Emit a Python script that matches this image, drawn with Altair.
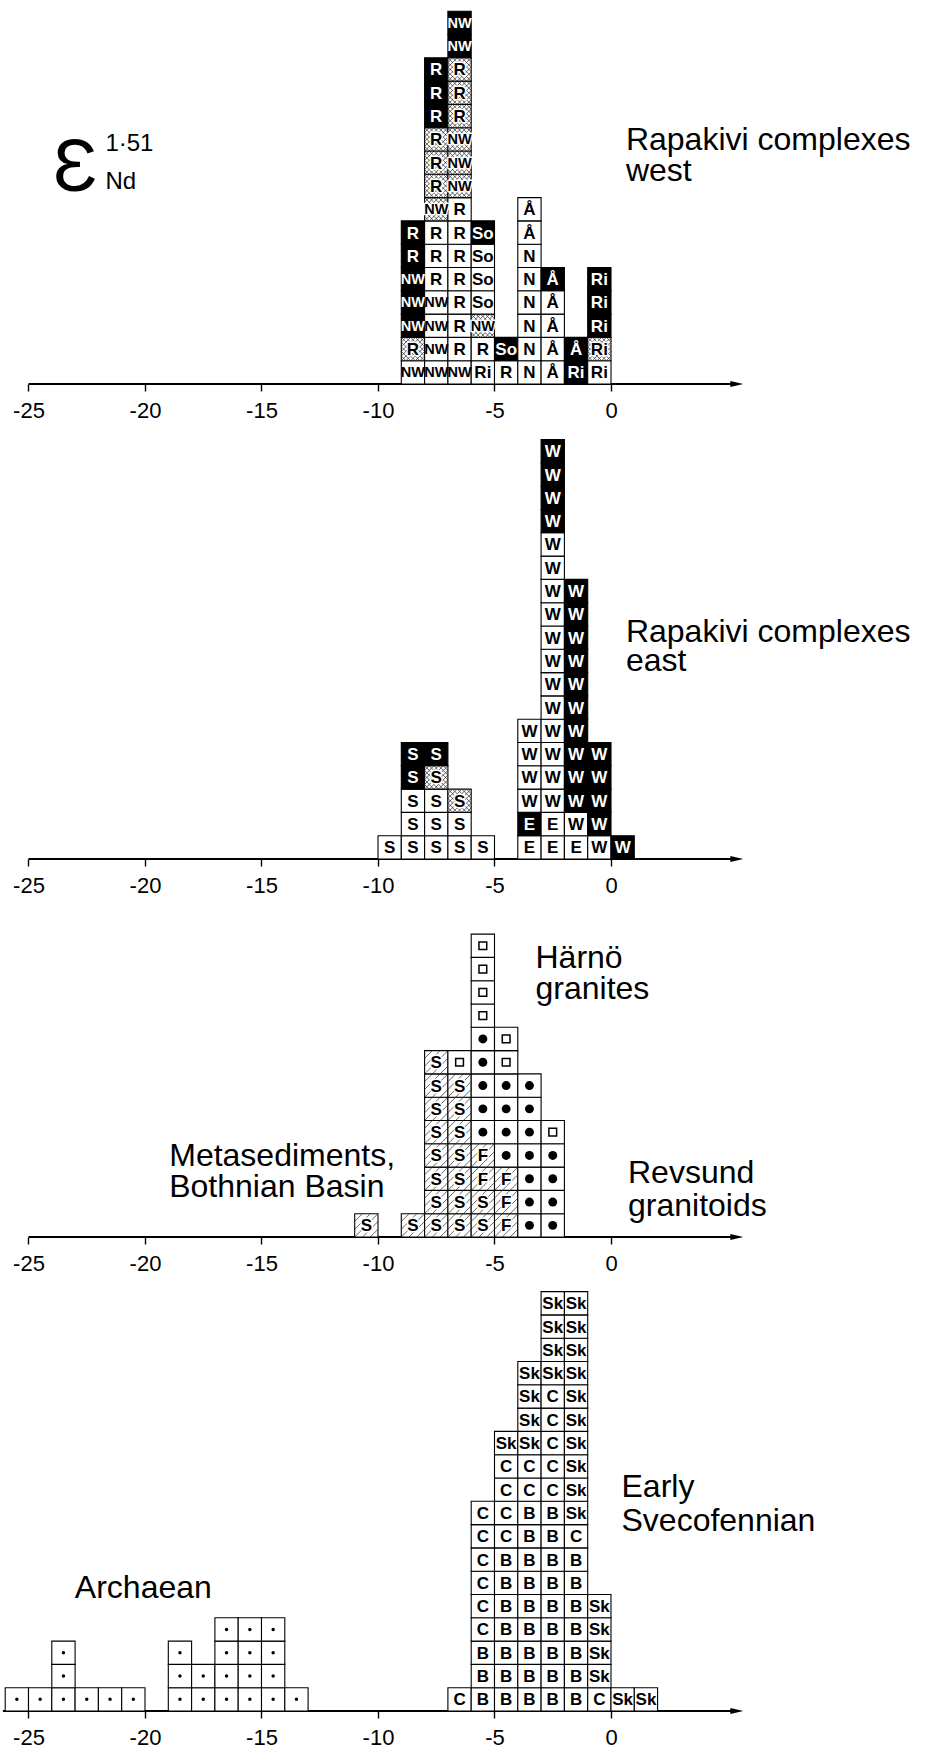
import altair as alt
import pandas as pd

FONT = "Liberation Sans"

# ---------------- data (bins are 1 epsilon unit wide; stacks listed bottom -> top) ----------------
# token = "label:fill"  fill: w white, b black, x cross-hatched, h hatched; label "@" = filled dot,
# "#" = open square, "." = small dot
TICKS = [-25, -20, -15, -10, -5, 0]

WEST_X = [-9, -8, -7, -6, -5, -4, -3, -2, -1]
WEST_STACKS = [
    "NW:w R:x NW:b NW:b NW:b R:b R:b",
    "NW:w NW:w NW:w NW:w R:w R:w R:w NW:x R:x R:x R:x R:b R:b R:b",
    "NW:w R:w R:w R:w R:w R:w R:w R:w NW:x NW:x NW:x R:x R:x R:x NW:b NW:b",
    "Ri:w R:w NW:x So:w So:w So:w So:b",
    "R:w So:b",
    "N:w N:w N:w N:w N:w N:w Å:w Å:w",
    "Å:w Å:w Å:w Å:w Å:b",
    "Ri:b Å:b",
    "Ri:w Ri:x Ri:b Ri:b Ri:b",
]

EAST_X = [-10, -9, -8, -7, -6, -4, -3, -2, -1, 0]
EAST_STACKS = [
    "S:w",
    "S:w S:w S:w S:b S:b",
    "S:w S:w S:w S:x S:b",
    "S:w S:w S:x",
    "S:w",
    "E:w E:b W:w W:w W:w W:w",
    "E:w E:w W:w W:w W:w W:w W:w W:w W:w W:w W:w W:w W:w W:w W:b W:b W:b W:b",
    "E:w W:w W:b W:b W:b W:b W:b W:b W:b W:b W:b W:b",
    "W:w W:b W:b W:b W:b",
    "W:b",
]

MID_X = [-11, -9, -8, -7, -6, -5, -4, -3]
MID_STACKS = [
    "S:h",
    "S:h",
    "S:h S:h S:h S:h S:h S:h S:h S:h",
    "S:h S:h S:h S:h S:h S:h S:h #:w",
    "S:h S:h F:h F:h @:w @:w @:w @:w @:w #:w #:w #:w #:w",
    "F:h F:h F:h @:w @:w @:w @:w #:w #:w",
    "@:w @:w @:w @:w @:w @:w @:w",
    "@:w @:w @:w @:w #:w",
]

OLD_X = [-26, -25, -24, -23, -22, -21, -19, -18, -17, -16, -15, -14,
         -7, -6, -5, -4, -3, -2, -1, 0, 1]
OLD_STACKS = [
    ".", ".", ". . .", ".", ".", ".",
    ". . .", ". .", ". . . .", ". . . .", ". . . .", ".",
    "C",
    "B B B C C C C C C",
    "B B B B B B B C C C C Sk",
    "B B B B B B B B B C C Sk Sk Sk Sk",
    "B B B B B B B B B C C C C C Sk Sk Sk Sk",
    "B B B B B B B C Sk Sk Sk Sk Sk Sk Sk Sk Sk Sk",
    "C Sk Sk Sk Sk",
    "Sk",
    "Sk",
]

# ---------------- layout ----------------
UNIT = 23.3          # px per epsilon unit and per sample
ZERO_PX = 611        # pixel column of epsilon = 0
WIDTH = 926
X_DOMAIN = [-ZERO_PX / UNIT, (WIDTH - ZERO_PX) / UNIT]
PANEL_H = [384, 475, 378, 474]
AXIS_START = [-25, -25, -25, -26.1]
AXIS_END = 5.4

# annotations: (text, x in epsilon units, y in sample units, font size)
ANN = [
    [("Rapakivi complexes", 0.64, 10.04, 32), ("west", 0.64, 8.71, 32),
     ("Ɛ", -23.95, 8.3, 74), ("1·51", -21.7, 10.0, 24), ("Nd", -21.7, 8.35, 24)],
    [("Rapakivi complexes", 0.64, 9.33, 32), ("east", 0.64, 8.05, 32)],
    [("Härnö", -3.24, 11.53, 32), ("granites", -3.24, 10.23, 32),
     ("Metasediments,", -18.96, 3.05, 32), ("Bothnian Basin", -18.96, 1.71, 32),
     ("Revsund", 0.73, 2.33, 32), ("granitoids", 0.73, 0.9, 32)],
    [("Early", 0.45, 9.17, 32), ("Svecofennian", 0.45, 7.74, 32),
     ("Archaean", -23.01, 4.86, 32)],
]

AXIS = alt.Axis(values=TICKS, domain=False, grid=False, ticks=True,
                tickSize=7, tickWidth=1.4, tickColor="black",
                labelFont=FONT, labelFontSize=22, labelColor="black",
                labelPadding=9, labelExpr="'' + datum.value",
                labelFlush=False, title=None)


def make_cells(xs, stacks):
    rows = []
    for x, st in zip(xs, stacks):
        for i, tok in enumerate(st.split()):
            lab, _, fill = tok.partition(":")
            rows.append(dict(x0=x, x1=x + 1, y0=i, y1=i + 1, cx=x + 0.5, cy=i + 0.5,
                             label=lab, fill=fill or "w"))
    return pd.DataFrame(rows)


def make_hatch(cells):
    rows = []
    for r in cells.itertuples():
        if r.fill == "x":
            ts = [k / 5 for k in range(-4, 5)]
            ss = [k / 5 for k in range(1, 10)]
        elif r.fill == "h":
            ts = [k / 3 for k in range(-2, 3)]
            ss = []
        else:
            continue
        for t in ts:
            rows.append(dict(xa=r.x0 + max(t, 0), ya=r.y0 + max(-t, 0),
                             xb=r.x0 + min(1, 1 + t), yb=r.y0 + min(1, 1 - t)))
        for s in ss:
            rows.append(dict(xa=r.x0 + max(0, s - 1), ya=r.y0 + min(1, s),
                             xb=r.x0 + min(1, s), yb=r.y0 + max(0, s - 1)))
    return pd.DataFrame(rows)


def panel(xs_, stacks, height, ann, axis_start):
    cells = make_cells(xs_, stacks)
    xs = alt.Scale(domain=X_DOMAIN, nice=False, zero=False)
    ys = alt.Scale(domain=[0, height / UNIT], nice=False, zero=False)
    X = lambda f: alt.X(f, type="quantitative", scale=xs, axis=AXIS, title=None)
    Y = lambda f: alt.Y(f, type="quantitative", scale=ys, axis=None)

    layers = []
    axis_df = pd.DataFrame({"xa": [axis_start], "xb": [AXIS_END], "y": [0]})
    layers.append(
        alt.Chart(axis_df).mark_rule(color="black", strokeWidth=1.8).encode(
            x=X("xa"), x2="xb:Q", y=Y("y"),
        )
    )
    layers.append(
        alt.Chart(axis_df).mark_point(
            shape="M-1,-0.45L1,0L-1,0.45Z", filled=True, size=170, color="black", opacity=1
        ).encode(x=X("xb"), y=Y("y"))
    )
    base = alt.Chart(cells)
    layers.append(
        base.mark_rect(stroke="black", strokeWidth=1.1).encode(
            x=X("x0"), x2="x1:Q", y=Y("y0"), y2="y1:Q",
            fill=alt.condition("datum.fill == 'b'", alt.value("black"), alt.value("white")),
        )
    )
    hatch = make_hatch(cells)
    if len(hatch):
        layers.append(
            alt.Chart(hatch).mark_rule(color="#222222", strokeWidth=0.7).encode(
                x=X("xa"), x2="xb:Q", y=Y("ya"), y2="yb:Q"
            )
        )
    is_text = "datum.label != '@' && datum.label != '#' && datum.label != '.'"
    fs = "datum.label == 'NW' ? 14.5 : 17"
    layers.append(
        base.transform_filter(is_text + " && (datum.fill == 'x' || datum.fill == 'h')")
        .transform_calculate(fs=fs)
        .mark_text(font=FONT, fontWeight="bold", align="center", baseline="middle", dy=1,
                   color="white", stroke="white", strokeWidth=3, strokeJoin="round")
        .encode(x=X("cx"), y=Y("cy"), text="label:N",
                size=alt.Size("fs:Q", scale=None, legend=None))
    )
    layers.append(
        base.transform_filter(is_text)
        .transform_calculate(fs=fs)
        .mark_text(font=FONT, fontWeight="bold", align="center", baseline="middle", dy=1)
        .encode(x=X("cx"), y=Y("cy"), text="label:N",
                size=alt.Size("fs:Q", scale=None, legend=None),
                color=alt.condition("datum.fill == 'b'", alt.value("white"), alt.value("black")))
    )
    layers.append(
        base.transform_filter("datum.label == '@'").mark_point(
            shape="circle", filled=True, size=80, color="black", opacity=1
        ).encode(x=X("cx"), y=Y("cy"))
    )
    layers.append(
        base.transform_filter("datum.label == '#'").mark_point(
            shape="square", filled=False, size=60, strokeWidth=1.5, color="black", opacity=1
        ).encode(x=X("cx"), y=Y("cy"))
    )
    layers.append(
        base.transform_filter("datum.label == '.'").mark_point(
            shape="circle", filled=True, size=12, color="black", opacity=1
        ).encode(x=X("cx"), y=Y("cy"))
    )
    ann_df = pd.DataFrame(ann, columns=["text", "x", "y", "fs"])
    layers.append(
        alt.Chart(ann_df).mark_text(font=FONT, align="left", baseline="alphabetic",
                                    color="black").encode(
            x=X("x"), y=Y("y"), text="text:N",
            size=alt.Size("fs:Q", scale=None, legend=None),
        )
    )
    return alt.layer(*layers).properties(width=WIDTH, height=height)


panels = [
    panel(WEST_X, WEST_STACKS, PANEL_H[0], ANN[0], AXIS_START[0]),
    panel(EAST_X, EAST_STACKS, PANEL_H[1], ANN[1], AXIS_START[1]),
    panel(MID_X, MID_STACKS, PANEL_H[2], ANN[2], AXIS_START[2]),
    panel(OLD_X, OLD_STACKS, PANEL_H[3], ANN[3], AXIS_START[3]),
]

chart = (
    alt.vconcat(*panels, spacing=0, bounds="flush")
    .resolve_scale(x="independent", y="independent")
    .configure_view(stroke=None)
    .properties(padding=0, background="white")
)

chart.save("out.html", embed_options={"renderer": "svg", "actions": False})
